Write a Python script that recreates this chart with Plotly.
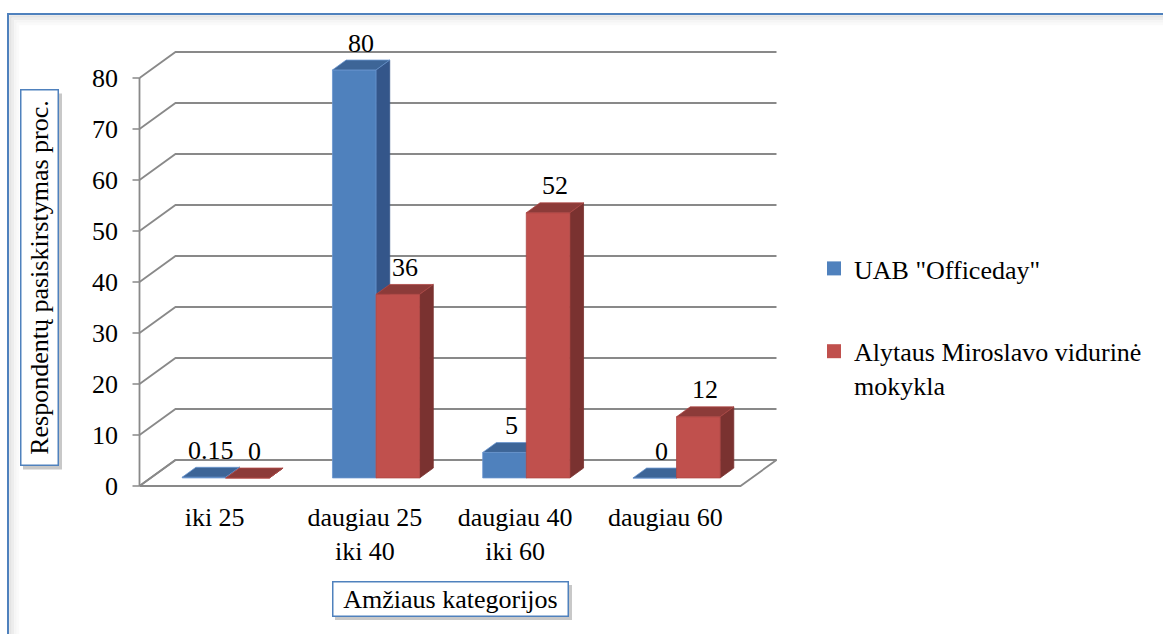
import plotly.graph_objects as go

# ---------------- data ----------------
categories = ["iki 25", "daugiau 25<br>iki 40", "daugiau 40<br>iki 60", "daugiau 60"]
series_names = ['UAB "Officeday"', "Alytaus Miroslavo vidurinė<br>mokykla"]
officeday = [0.15, 80, 5, 0]
alytaus = [0, 36, 52, 12]
y_ticks = [0, 10, 20, 30, 40, 50, 60, 70, 80]
x_title = "Amžiaus kategorijos"
y_title = "Respondentų pasiskirstymas proc."

# ---------------- styling / geometry ----------------
FONT = "Liberation Serif"
FS = 26
W, H = 1163, 634
PX_X0, SX = 139.5, 150.25      # pixel of x=0, px per category unit
PX_Y0, SY = 486.0, 5.1         # pixel of y=0, px per value unit
L, R, T, B = 130, 380, 45, 142
plot_w = W - L - R
plot_h = H - T - B
xr = [(L - PX_X0) / SX, (L + plot_w - PX_X0) / SX]
yr = [(PX_Y0 - (T + plot_h)) / SY, (PX_Y0 - T) / SY]


def px2paper(px):
    return (px - L) / plot_w


def py2paper(py):
    return (T + plot_h - py) / plot_h


DX, DY = 36 / SX, 26 / SY          # depth of the 3D box
F0, F1 = 0.31, 0.69                # bar depth fraction
W_BAR = 0.29
ox, oy = F0 * DX, F0 * DY
bx, by = (F1 - F0) * DX, (F1 - F0) * DY
n = len(categories)
GRID = "#898989"

colors = [
    dict(front="#4F81BD", side="#34568A", top="#3D6597", edge="#6A95CF"),
    dict(front="#C0504D", side="#7A3230", top="#8C3B39", edge="#B04845"),
]


def poly_trace(polys, fill, line, lw=0.8):
    xs, ys = [], []
    for p in polys:
        for (a, b) in p:
            xs.append(a)
            ys.append(b)
        xs.append(p[0][0])
        ys.append(p[0][1])
        xs.append(None)
        ys.append(None)
    return go.Scatter(x=xs, y=ys, mode="lines", fill="toself", fillcolor=fill,
                      line=dict(color=line, width=lw), hoverinfo="skip",
                      showlegend=False)


def line_trace(segs, color, lw):
    xs, ys = [], []
    for sgm in segs:
        for (a, b) in sgm:
            xs.append(a)
            ys.append(b)
        xs.append(None)
        ys.append(None)
    return go.Scatter(x=xs, y=ys, mode="lines", line=dict(color=color, width=lw),
                      hoverinfo="skip", showlegend=False)


fig = go.Figure()

# floor
fig.add_trace(poly_trace([[(0, 0), (n, 0), (n + DX, DY), (DX, DY)]], "white", GRID, 1.8))
# back wall gridlines + side wall diagonals
grid_segs = [[(0, v), (DX, v + DY), (n + DX, v + DY)] for v in y_ticks]
fig.add_trace(line_trace(grid_segs, GRID, 1.8))
# axis line and tick marks
fig.add_trace(line_trace([[(0, 0), (0, max(y_ticks))]], GRID, 1.8))
fig.add_trace(line_trace([[(-7 / SX, v), (0, v)] for v in y_ticks], GRID, 1.5))

annotations = []
for s, vals in enumerate([officeday, alytaus]):
    fronts, sides, tops = [], [], []
    for i, v in enumerate(vals):
        c = i + 0.5
        x0 = c - W_BAR + s * W_BAR + ox
        x1 = x0 + W_BAR
        b = oy
        t = oy + v
        fronts.append([(x0, b), (x1, b), (x1, t), (x0, t)])
        sides.append([(x1, b), (x1 + bx, b + by), (x1 + bx, t + by), (x1, t)])
        tops.append([(x0, t), (x1, t), (x1 + bx, t + by), (x0 + bx, t + by)])
        annotations.append(dict(
            x=(x0 + x1) / 2 + bx / 2, y=t + by / 2, xref="x", yref="y",
            text=f"{v:g}", showarrow=False, yshift=22,
            font=dict(family=FONT, size=FS, color="black")))
    col = colors[s]
    fig.add_trace(poly_trace(sides, col["side"], col["side"], 0.8))
    fig.add_trace(poly_trace(fronts, col["front"], col["edge"], 0.8))
    fig.add_trace(poly_trace(tops, col["top"], col["edge"], 0.8))

# legend entries
for s, name in enumerate(series_names):
    fig.add_trace(go.Scatter(
        x=[None], y=[None], mode="markers", name=name, legendgroup=f"g{s}",
        marker=dict(symbol="square", size=14, color=colors[s]["front"],
                    line=dict(width=0))))

shapes = []

# axis titles in boxes, each with a soft drop shadow
title_boxes = [
    dict(text=y_title, cx=39, cy=278, w=38, h=375, rot=True),
    dict(text=x_title, cx=450, cy=599, w=236, h=34, rot=False),
]
for tb in title_boxes:
    sh = 3
    shapes.append(dict(type="rect", xref="paper", yref="paper",
                       x0=px2paper(tb["cx"] - tb["w"] / 2 + sh),
                       x1=px2paper(tb["cx"] + tb["w"] / 2 + sh + 1),
                       y0=py2paper(tb["cy"] + tb["h"] / 2 + sh + 1),
                       y1=py2paper(tb["cy"] - tb["h"] / 2 + sh),
                       fillcolor="#C8C8C8", line=dict(width=0), layer="above"))
    ann = dict(x=px2paper(tb["cx"]), y=py2paper(tb["cy"]), xref="paper", yref="paper",
               text=tb["text"], showarrow=False, xanchor="center", yanchor="middle",
               font=dict(family=FONT, size=FS, color="black"),
               bgcolor="white", bordercolor="#4F81BD", borderwidth=1.5, borderpad=1)
    if tb["rot"]:
        ann.update(textangle=-90, width=tb["h"] - 3, height=tb["w"] - 4)
    else:
        ann.update(width=tb["w"] - 4, height=tb["h"] - 3)
    annotations.append(ann)

# outer border with soft inner glow
for k, colr in enumerate(["#E4E4E4", "#EDEDED", "#F5F5F5", "#FAFAFA"]):
    d = 2.5 + 2.5 * k
    shapes.append(dict(type="rect", xref="paper", yref="paper",
                       x0=px2paper(8 + d), y0=py2paper(14 + d),
                       x1=px2paper(1200), y1=py2paper(700),
                       line=dict(color=colr, width=2.5), layer="below"))
shapes.append(dict(type="rect", xref="paper", yref="paper",
                   x0=px2paper(8), y0=py2paper(14), x1=px2paper(1200), y1=py2paper(700),
                   line=dict(color="#4F81BD", width=2), layer="below"))

fig.update_layout(
    width=W, height=H,
    margin=dict(l=L, r=R, t=T, b=B, autoexpand=False),
    paper_bgcolor="white", plot_bgcolor="rgba(0,0,0,0)",
    font=dict(family=FONT, size=FS, color="black"),
    showlegend=True,
    legend=dict(xref="container", yref="container", x=814 / W, y=1 - 245 / H,
                xanchor="left", yanchor="top",
                font=dict(family=FONT, size=FS, color="black"),
                tracegroupgap=46, valign="top", bgcolor="rgba(0,0,0,0)"),
    xaxis=dict(range=xr, tickvals=[i + 0.5 for i in range(n)], ticktext=categories,
               showgrid=False, zeroline=False, showline=False, ticks="",
               ticklabelstandoff=7, tickfont=dict(family=FONT, size=FS, color="black")),
    yaxis=dict(range=yr, tickvals=y_ticks, showgrid=False, zeroline=False,
               showline=False, ticks="", ticklabelstandoff=11,
               tickfont=dict(family=FONT, size=FS, color="black")),
    annotations=annotations,
    shapes=shapes,
)

fig.write_html("out.html")
